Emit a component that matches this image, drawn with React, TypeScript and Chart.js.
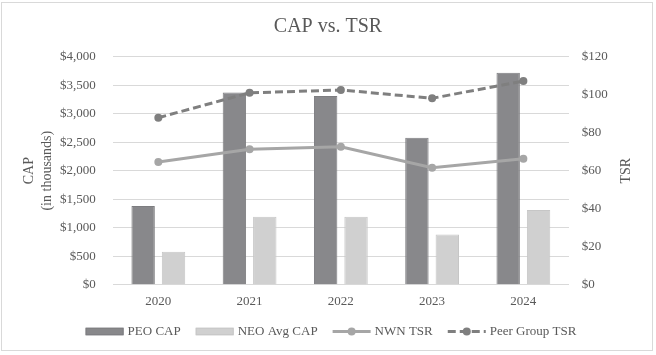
import React, { useEffect, useRef } from 'react';
import { Chart, registerables } from 'chart.js';

Chart.register(...registerables);

const years = ['2020', '2021', '2022', '2023', '2024'];
const peoCap = [1380, 3370, 3310, 2580, 3720];
const neoAvgCap = [580, 1190, 1190, 880, 1310];
const nwnTsr = [64.6, 71.3, 72.6, 61.6, 66.3];
const peerTsr = [87.9, 101, 102.5, 98.1, 107.2];
const capTickRange = [0, 4000, 500];
const tsrTickRange = [0, 120, 20];

const FONT = "'Times New Roman', 'Liberation Serif', serif";
const TEXT = '#595959';
const GRID = '#d9d9d9';

const decor = {
  id: 'decor',
  beforeDraw(chart: any) {
    const ctx = chart.ctx;
    ctx.save();
    ctx.fillStyle = '#ffffff';
    ctx.fillRect(0, 0, chart.width, chart.height);
    ctx.restore();
  },
  afterDraw(chart: any) {
    const ctx = chart.ctx;
    const area = chart.chartArea;
    ctx.save();
    // outer border
    ctx.strokeStyle = GRID;
    ctx.lineWidth = 1;
    ctx.strokeRect(1.5, 2.5, 651, 348);

    // right axis title (reads bottom-to-top)
    const s = chart.scales.yTsr;
    ctx.font = `14px ${FONT}`;
    ctx.fillStyle = TEXT;
    ctx.textAlign = 'center';
    ctx.textBaseline = 'middle';
    ctx.translate(s.right - 9, (area.top + area.bottom) / 2);
    ctx.rotate(-Math.PI / 2);
    ctx.fillText('TSR', 0, 0);
    ctx.restore();

    // legend
    ctx.save();
    ctx.font = `13px ${FONT}`;
    const sample = 38;
    const gapText = 4;
    const gapItem = 15;
    const items = chart.data.datasets;
    const widths = items.map((d: any) => sample + gapText + ctx.measureText(d.label).width);
    const total = widths.reduce((a: number, b: number) => a + b, 0) + gapItem * (items.length - 1);
    let x = 331 - total / 2;
    const y = 331.5;
    items.forEach((d: any, k: number) => {
      if (d.type === 'line') {
        ctx.save();
        ctx.strokeStyle = d.borderColor;
        ctx.lineWidth = d.borderWidth;
        ctx.setLineDash(d.borderDash || []);
        ctx.beginPath();
        ctx.moveTo(x, y);
        ctx.lineTo(x + sample, y);
        ctx.stroke();
        ctx.setLineDash([]);
        ctx.fillStyle = d.pointBackgroundColor;
        ctx.beginPath();
        ctx.arc(x + sample / 2, y, d.pointRadius, 0, Math.PI * 2);
        ctx.fill();
        ctx.restore();
      } else {
        ctx.fillStyle = d.backgroundColor;
        ctx.fillRect(x, y - 3.75, sample, 7.5);
        ctx.strokeStyle = d.borderColor;
        ctx.lineWidth = 1;
        ctx.strokeRect(x + 0.5, y - 3.25, sample - 1, 6.5);
      }
      ctx.fillStyle = TEXT;
      ctx.textAlign = 'left';
      ctx.textBaseline = 'middle';
      ctx.fillText(d.label, x + sample + gapText, y);
      x += widths[k] + gapItem;
    });
    ctx.restore();
  },
};

export default function App() {
  const ref = useRef<HTMLCanvasElement | null>(null);

  useEffect(() => {
    if (!ref.current) return;
    Chart.defaults.font.family = FONT;
    Chart.defaults.color = TEXT;
    const chart = new Chart(ref.current, {
      type: 'bar',
      data: {
        labels: years,
        datasets: [
          {
            type: 'bar',
            label: 'PEO CAP',
            data: peoCap,
            yAxisID: 'yCap',
            backgroundColor: '#88888b',
            borderColor: '#7d7d80',
            borderWidth: 1,
            categoryPercentage: 0.666,
            barPercentage: 0.77,
            order: 2,
          } as any,
          {
            type: 'bar',
            label: 'NEO Avg CAP',
            data: neoAvgCap,
            yAxisID: 'yCap',
            backgroundColor: '#d0d0d0',
            borderColor: '#c6c6c6',
            borderWidth: 1,
            categoryPercentage: 0.666,
            barPercentage: 0.77,
            order: 2,
          } as any,
          {
            type: 'line',
            label: 'NWN TSR',
            data: nwnTsr,
            yAxisID: 'yTsr',
            borderColor: '#a6a6a6',
            backgroundColor: '#a6a6a6',
            pointBackgroundColor: '#a6a6a6',
            pointBorderColor: '#a6a6a6',
            borderWidth: 3,
            pointRadius: 4,
            pointBorderWidth: 0,
            tension: 0,
            order: 0,
          } as any,
          {
            type: 'line',
            label: 'Peer Group TSR',
            data: peerTsr,
            yAxisID: 'yTsr',
            borderColor: '#7f7f7f',
            backgroundColor: '#7f7f7f',
            pointBackgroundColor: '#7f7f7f',
            pointBorderColor: '#7f7f7f',
            borderWidth: 3,
            borderDash: [8, 4],
            pointRadius: 4,
            pointBorderWidth: 0,
            tension: 0,
            order: 0,
          } as any,
        ],
      },
      options: {
        responsive: false,
        animation: false,
        devicePixelRatio: 1,
        layout: { padding: { left: 20.3, right: 20.3, top: 0, bottom: 45.5 } },
        plugins: {
          legend: { display: false },
          tooltip: { enabled: false },
          title: {
            display: true,
            text: 'CAP vs. TSR',
            color: TEXT,
            font: { family: FONT, size: 20, weight: 'normal', lineHeight: 1.2 },
            padding: { top: 15, bottom: 17.7 },
          },
        },
        scales: {
          x: {
            grid: { display: false, drawTicks: false },
            border: { display: false },
            ticks: { color: TEXT, font: { family: FONT, size: 13 }, padding: 9.2 },
            afterFit: (s: any) => { s.height = 24.8; },
          },
          yCap: {
            type: 'linear',
            position: 'left',
            min: capTickRange[0],
            max: capTickRange[1],
            grid: { color: GRID, lineWidth: 1, drawTicks: false },
            border: { display: false },
            ticks: {
              stepSize: capTickRange[2],
              padding: 17,
              color: TEXT,
              font: { family: FONT, size: 13 },
              callback: (v: any) => '$' + Number(v).toLocaleString('en-US'),
            },
            title: {
              display: true,
              text: ['CAP', '(in thousands)'],
              color: TEXT,
              font: { family: FONT, size: 14, lineHeight: 18 / 14 },
              padding: { top: 0, bottom: 3.7 },
            },
            afterFit: (s: any) => { s.width = 92.4; },
          },
          yTsr: {
            type: 'linear',
            position: 'right',
            min: tsrTickRange[0],
            max: tsrTickRange[1],
            grid: { display: false, drawTicks: false },
            border: { display: false },
            ticks: {
              stepSize: tsrTickRange[2],
              padding: 12.7,
              color: TEXT,
              font: { family: FONT, size: 13 },
              callback: (v: any) => '$' + Number(v).toLocaleString('en-US'),
            },
            title: {
              display: true,
              text: 'TSR',
              color: 'rgba(0,0,0,0)',
              font: { family: FONT, size: 14, lineHeight: 18 / 14 },
              padding: { top: 0, bottom: 10 },
            },
            afterFit: (s: any) => { s.width = 66.7; },
          },
        },
      } as any,
      plugins: [decor],
    });
    return () => chart.destroy();
  }, []);

  return (
    <div style={{ position: 'fixed', left: 0, top: 0, width: 656, height: 355 }}>
      <canvas ref={ref} width={656} height={355} style={{ width: 656, height: 355, display: 'block' }} />
    </div>
  );
}
